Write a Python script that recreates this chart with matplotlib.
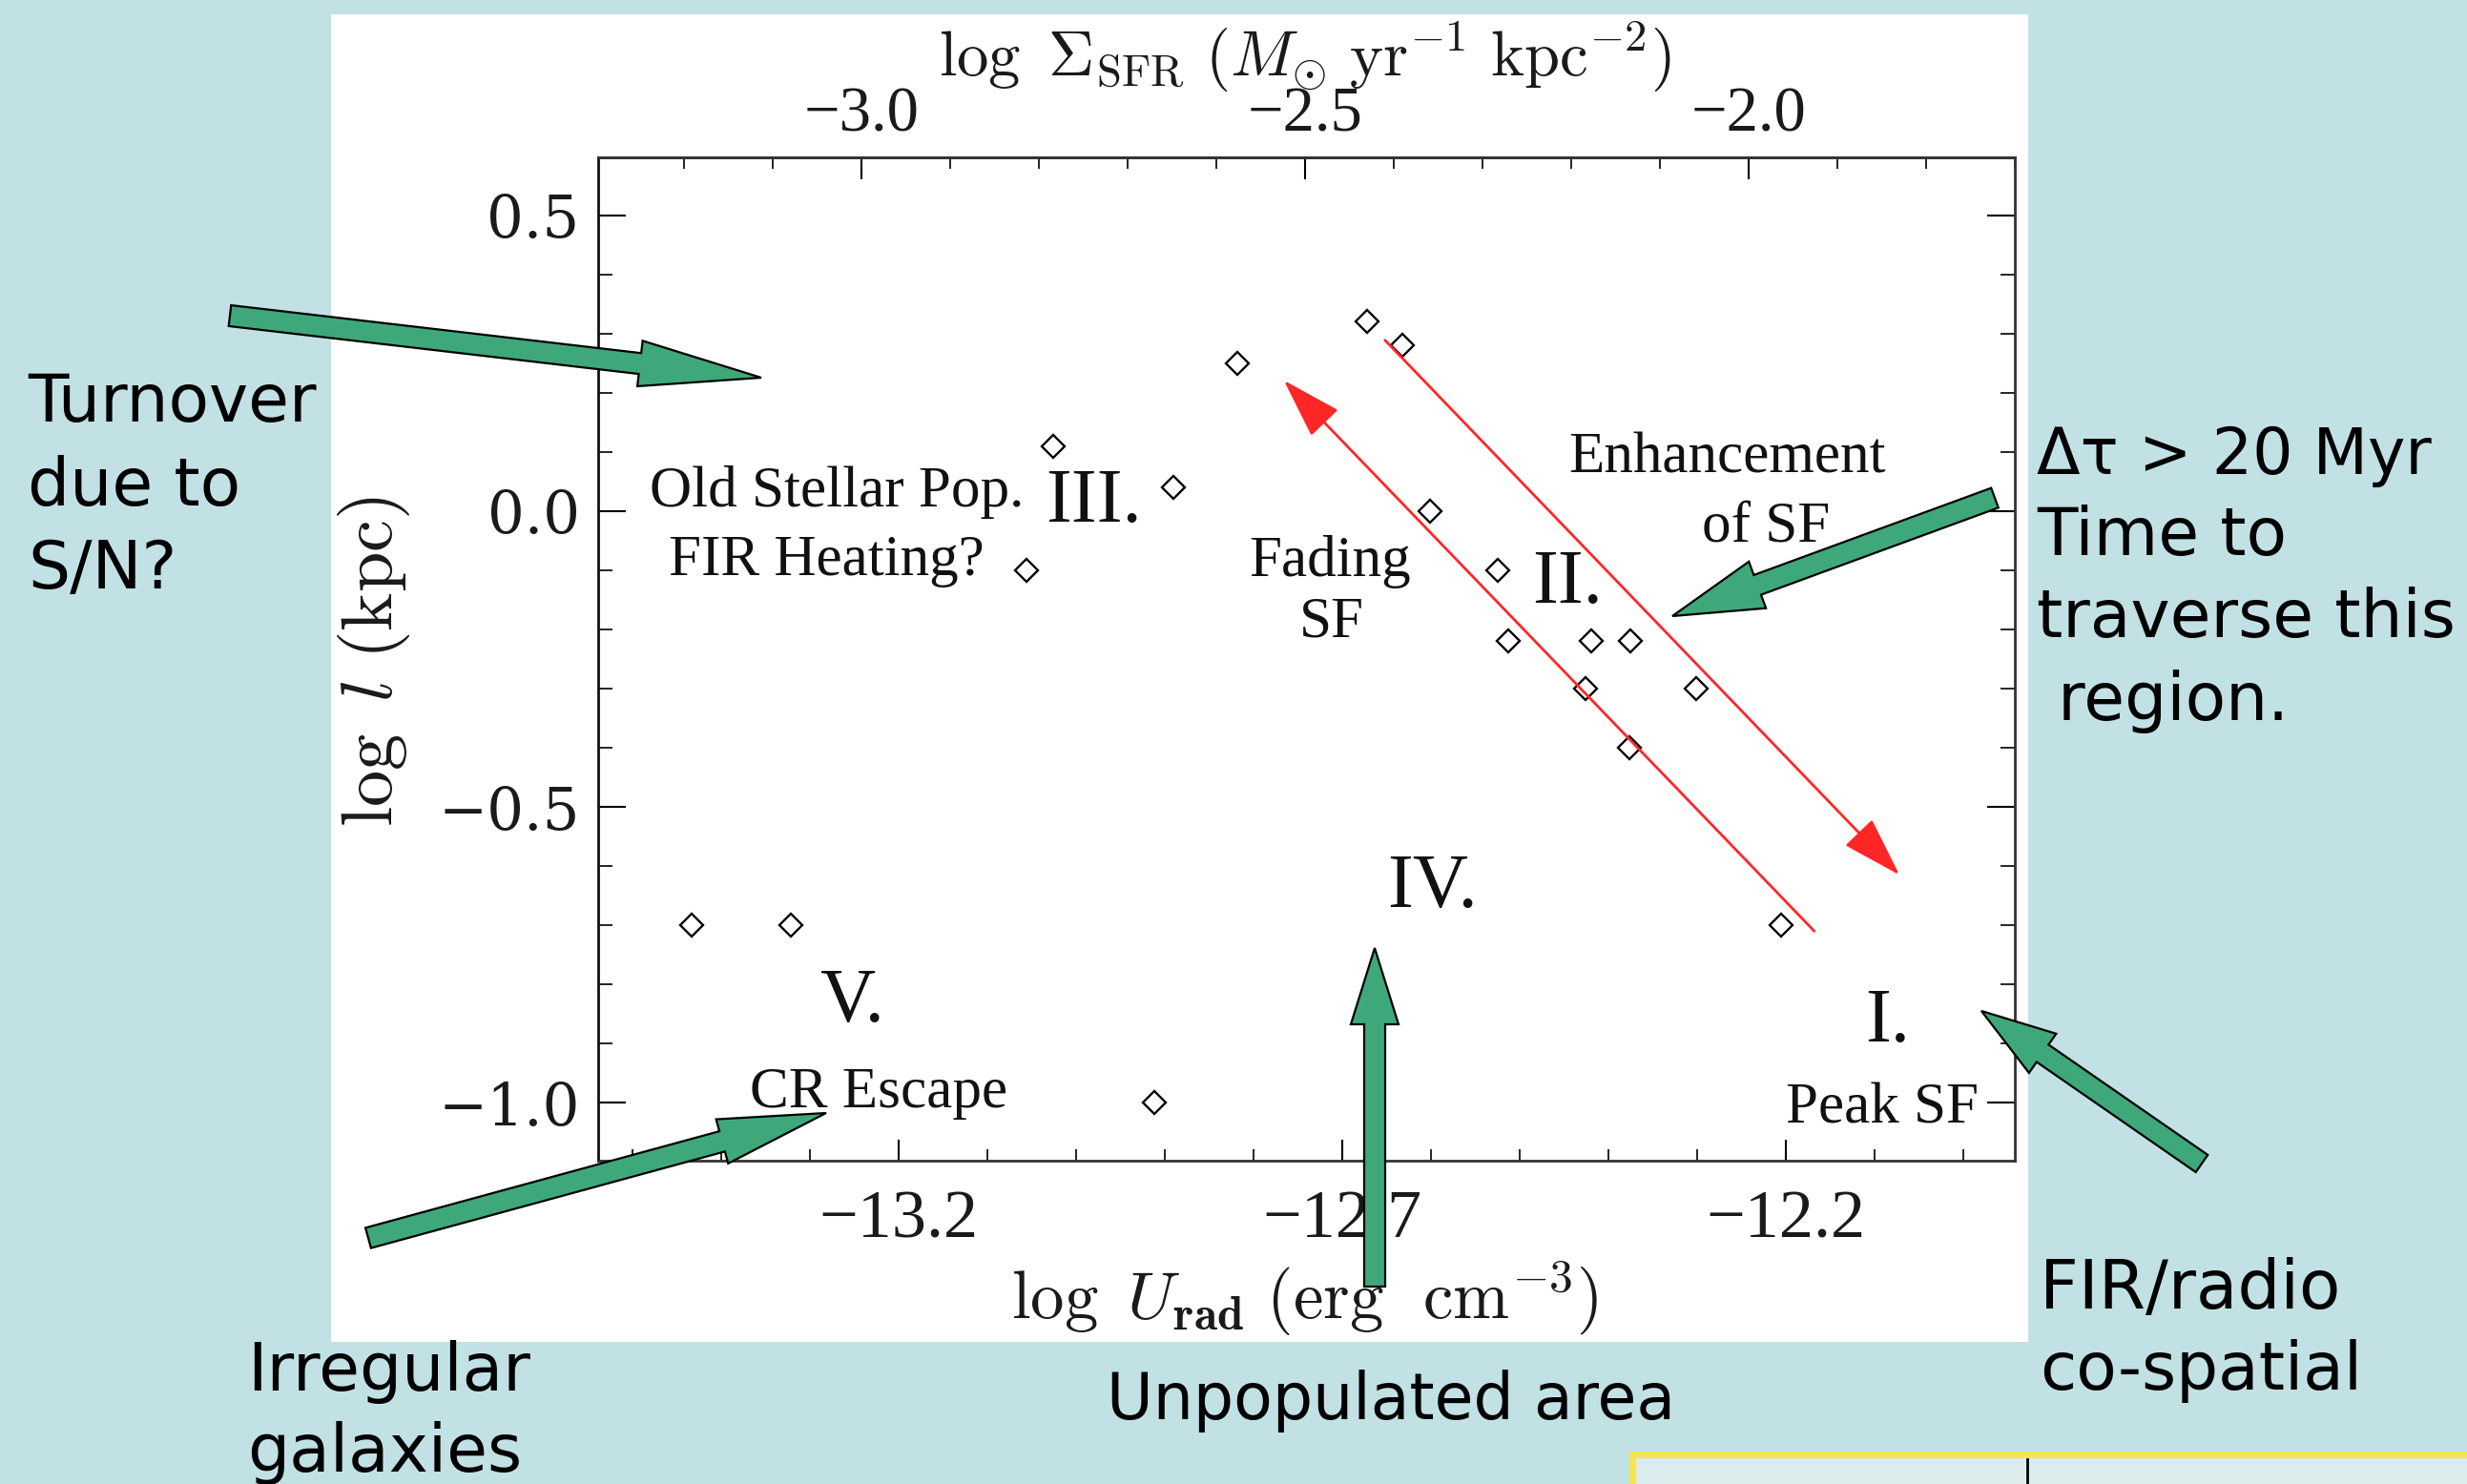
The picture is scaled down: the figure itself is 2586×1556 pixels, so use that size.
import matplotlib
matplotlib.use('Agg')
import matplotlib.pyplot as plt
from matplotlib.patches import FancyArrow, Rectangle
from matplotlib.ticker import MultipleLocator, FixedLocator

plt.rcParams['mathtext.fontset'] = 'cm'

# ---------------- data ----------------
log_urad = [-12.818, -12.672, -12.632, -13.026, -12.891, -13.056, -12.601,
            -12.525, -12.513, -12.420, -12.375, -12.426, -12.301, -12.377,
            -13.434, -13.322, -12.205, -12.912]
log_l = [0.25, 0.32, 0.28, 0.11, 0.04, -0.10, 0.00,
         -0.10, -0.22, -0.22, -0.22, -0.30, -0.30, -0.40,
         -0.70, -0.70, -0.70, -1.00]

x_ticks = [-13.2, -12.7, -12.2]
x_ticklabels = ['\u221213.2', '\u221212.7', '\u221212.2']
y_ticks = [0.5, 0.0, -0.5, -1.0]
y_ticklabels = ['0.5', '0.0', '\u22120.5', '\u22121.0']
sfr_ticks = [-3.0, -2.5, -2.0]
sfr_ticklabels = ['\u22123.0', '\u22122.5', '\u22122.0']
SFR_OFFSET = 10.242  # log Sigma_SFR = log U_rad + offset

# red evolution arrows (tail -> head), data coords
fade_tail, fade_head = (-12.168, -0.710), (-12.766, 0.221)
enh_tail, enh_head = (-12.652, 0.289), (-12.072, -0.615)

# region annotations (text, x, y, size)
region_texts = [
    ('Old Stellar Pop.', -13.270, 0.032, 44),
    ('FIR Heating?', -13.282, -0.085, 44),
    ('III.', -12.980, 0.013, 58),
    ('Fading', -12.714, -0.085, 44),
    ('SF', -12.712, -0.189, 44),
    ('II.', -12.446, -0.123, 58),
    ('Enhancement', -12.266, 0.089, 44),
    ('of SF', -12.223, -0.027, 44),
    ('IV.', -12.599, -0.637, 58),
    ('V.', -13.253, -0.831, 58),
    ('CR Escape', -13.223, -0.984, 44),
    ('I.', -12.085, -0.865, 58),
    ('Peak SF', -12.091, -1.011, 44),
]

W, H = 2586, 1556
BG = '#c2e1e5'
GREEN = '#3fa87a'

fig = plt.figure(figsize=(W / 100, H / 100), dpi=100, facecolor=BG)


def fx(x):
    return x / W


def fy(y):
    return 1 - y / H


# white panel behind the chart
fig.patches.append(Rectangle((fx(347), fy(1407)), fx(2126 - 347), (1407 - 15) / H,
                             transform=fig.transFigure, facecolor='white',
                             edgecolor='none', zorder=-5))

# bottom-right yellow box (partly visible)
fig.patches.append(Rectangle((fx(1711), fy(1570)), fx(2600 - 1711), (1570 - 1525) / H,
                             transform=fig.transFigure, facecolor='#dcecec',
                             edgecolor='#f4e64e', linewidth=5, zorder=-5))

ax = fig.add_axes([fx(627), fy(1217), fx(2112 - 627), (1217 - 165) / H], zorder=1)
ax.set_facecolor('none')
ax.set_xlim(-13.539, -11.942)
ax.set_ylim(-1.098, 0.598)

ax.plot(log_urad, log_l, linestyle='none', marker='D', markersize=12.5,
        markerfacecolor='white', markeredgecolor='black', markeredgewidth=1.7,
        zorder=3)

for tail, head in [(fade_tail, fade_head), (enh_tail, enh_head)]:
    ax.annotate('', xy=head, xytext=tail,
                arrowprops=dict(arrowstyle='-|>,head_length=0.8,head_width=0.25',
                                color='#ff2626', lw=2.0, mutation_scale=50,
                                shrinkA=0, shrinkB=0))

for txt, x, y, s in region_texts:
    ax.text(x, y, txt, fontsize=s, family='Liberation Serif', color='#111111',
            ha='center', va='center')

ax.xaxis.set_major_locator(FixedLocator(x_ticks))
ax.set_xticklabels(x_ticklabels, family='Liberation Serif', fontsize=52, color='#1a1a1a')
ax.xaxis.set_minor_locator(MultipleLocator(0.1))
ax.yaxis.set_major_locator(FixedLocator(y_ticks))
ax.set_yticklabels(y_ticklabels, family='DejaVu Serif', fontsize=44, color='#1a1a1a')
ax.yaxis.set_minor_locator(MultipleLocator(0.1))

ax.tick_params(axis='x', which='major', direction='in', length=16, width=1.5,
               pad=22, top=False)
ax.tick_params(axis='x', which='minor', direction='in', length=8.5, width=1.2, top=False)
ax.tick_params(axis='y', which='major', direction='in', length=21, width=1.5,
               pad=14, right=True)
ax.tick_params(axis='y', which='minor', direction='in', length=11, width=1.2, right=True)
for sp in ax.spines.values():
    sp.set_color('#333333')
    sp.set_linewidth(2)
ax.spines['left'].set_color('#111111')

sec = ax.secondary_xaxis('top', functions=(lambda u: u + SFR_OFFSET,
                                           lambda s: s - SFR_OFFSET))
sec.xaxis.set_major_locator(FixedLocator(sfr_ticks))
sec.set_xticklabels(sfr_ticklabels, family='Liberation Serif', fontsize=48, color='#1a1a1a')
sec.xaxis.set_minor_locator(MultipleLocator(0.1))
sec.tick_params(which='major', direction='in', length=16.5, width=1.5, pad=10)
sec.tick_params(which='minor', direction='in', length=8.5, width=1.2)
sec.spines['top'].set_color('#333333')
sec.spines['top'].set_linewidth(2)

# axis labels
fig.text(fx(1368), fy(60), r'$\log\ \Sigma_{\rm SFR}\ (M_{\odot}\ {\rm yr}^{-1}\ {\rm kpc}^{-2})$',
         fontsize=48, ha='center', va='center', color='#1a1a1a')
fig.text(fx(1368), fy(1362), r'$\log\ U_{\mathbf{rad}}\ ({\rm erg\ \ cm}^{-3})$',
         fontsize=51, ha='center', va='center', color='#1a1a1a')
fig.text(fx(392), fy(694), r'$\log\ l\ ({\rm kpc})$', rotation=90,
         fontsize=55, ha='center', va='center', color='#1a1a1a')

# slide overlay: green block arrows
ov = fig.add_axes([0, 0, 1, 1], zorder=10)
ov.set_xlim(0, W)
ov.set_ylim(H, 0)
ov.axis('off')
ov.set_facecolor('none')

green_arrows = [
    ((241, 331), (798, 396), 128, 48),
    ((2091, 522), (1753, 646), 95, 52),
    ((2308, 1220), (2077, 1060), 78, 50),
    ((386, 1298), (866, 1167), 113, 48),
    ((1441, 1349), (1441, 994), 80, 50),
]
for (x0, y0), (x1, y1), hl, hw in green_arrows:
    ov.add_patch(FancyArrow(x0, y0, x1 - x0, y1 - y0, width=22, head_width=hw,
                            head_length=hl, length_includes_head=True,
                            facecolor=GREEN, edgecolor='black', linewidth=1.6))

# vertical line in yellow box
ov.plot([2125, 2125], [1530, 1556], color='black', lw=2)

# slide texts
SL = dict(family='DejaVu Sans', fontsize=50, color='black', va='baseline', ha='left')
for t, x, y, s in [('Turnover', 29, 442, 50), ('due to', 29, 530, 50), ('S/N?', 29, 617, 50),
                   ('\u0394\u03c4 > 20 Myr', 2135, 497, 48), ('Time to', 2135, 582, 50),
                   ('traverse this', 2135, 668, 50), (' region.', 2135, 755, 50),
                   ('FIR/radio', 2138, 1372, 51), ('co-spatial', 2138, 1457, 50),
                   ('Irregular', 259, 1458, 50), ('galaxies', 259, 1543, 50),
                   ('Unpopulated area', 1160, 1488, 48)]:
    SL['fontsize'] = s
    ov.text(x, y, t, **SL)

fig.savefig('out.png', dpi=100, facecolor=BG)
